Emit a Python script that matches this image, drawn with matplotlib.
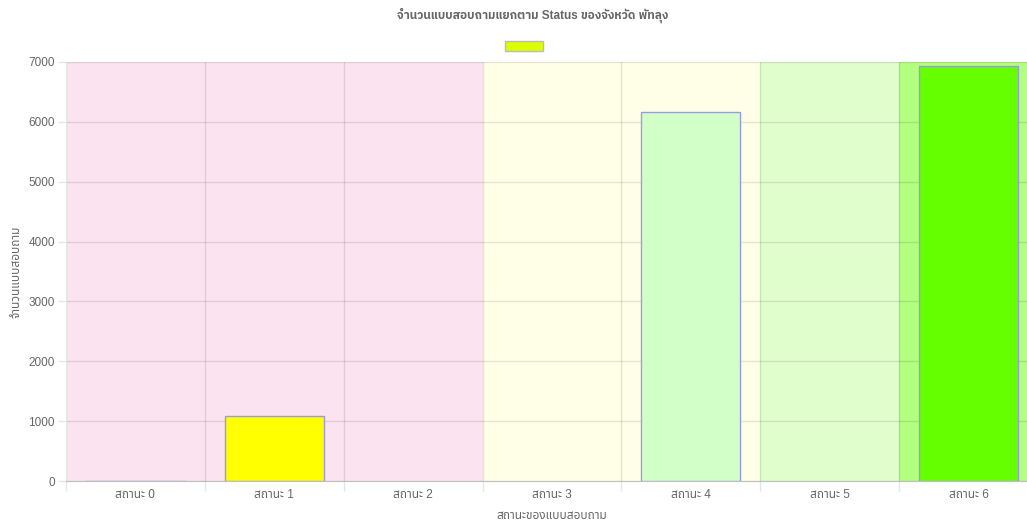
import matplotlib
matplotlib.use("Agg")
import matplotlib.pyplot as plt
from matplotlib.patches import Patch

plt.rcParams['font.family'] = ['Liberation Sans', 'Noto Sans Thai', 'DejaVu Sans']

# data
categories = ['สถานะ 0', 'สถานะ 1', 'สถานะ 2', 'สถานะ 3', 'สถานะ 4', 'สถานะ 5', 'สถานะ 6']
counts = [5, 1085, 0, 0, 6165, 0, 6940]
bar_colors = ['#dcff00', '#ffff00', '#ffd6e8', '#fffee6', '#d2ffc8', '#e0fdcc', '#66ff00']

# background bands: (first status, last status, colour)
bands = [(0, 2, '#fbe3ef'), (3, 4, '#fffee6'), (5, 5, '#e0fdcc'), (6, 6, '#b3ff80')]

title = 'จำนวนแบบสอบถามแยกตาม Status ของจังหวัด พัทลุง'
xlabel = 'สถานะของแบบสอบถาม'
ylabel = 'จำนวนแบบสอบถาม'

grey = '#666666'
fig = plt.figure(figsize=(10.27, 5.22), dpi=100)
# plot area runs past the right edge, like the cropped screenshot
ax = fig.add_axes([66 / 1027, 41 / 522, (1038 - 66) / 1027, (481 - 62) / 522])

for lo, hi, c in bands:
    ax.axvspan(lo - 0.5, hi + 0.5, color=c, lw=0, zorder=0)

x = range(len(categories))
# empty bars get no border, as in the reference
ax.bar(x, counts, width=0.715, color=bar_colors, edgecolor='#9a9ae8',
       linewidth=[1 if v > 0 else 0 for v in counts], zorder=3)

ax.set_xlim(-0.5, len(categories) - 0.5)
ax.set_ylim(0, 7000)
ax.set_yticks(range(0, 7001, 1000))

# grid lines sit on the category boundaries, labels at the centres
ax.set_xticks([i - 0.5 for i in range(len(categories) + 1)])
ax.set_xticklabels([])
ax.set_xticks(list(x), minor=True)
ax.set_xticklabels(categories, minor=True)
ax.tick_params(axis='x', which='major', length=7, color='#e6e6e6', width=1)
ax.tick_params(axis='x', which='minor', length=0, pad=6, labelsize=8.5, labelcolor=grey)
ax.tick_params(axis='y', length=6, color='#e6e6e6', width=1, pad=2, labelsize=8.5, labelcolor=grey)

ax.grid(True, which='major', color='black', alpha=0.1, linewidth=1)
for gl in ax.get_xgridlines() + ax.get_ygridlines():
    gl.set_zorder(1)

for s in ['top', 'right']:
    ax.spines[s].set_visible(False)
ax.spines['left'].set_color('#e6e6e6')
ax.spines['bottom'].set_color('#bfbfbf')

ax.set_xlabel(xlabel, fontsize=8.5, color=grey, labelpad=6)
ax.set_ylabel(ylabel, fontsize=8.5, color=grey, labelpad=4)

fig.text(533 / 1027, 1 - 15 / 522, title, ha='center', va='center',
         fontsize=8.5, fontweight='bold', color=grey,
         family=['Liberation Sans', 'IBM Plex Sans Thai', 'Noto Sans Thai'])

fig.legend(handles=[Patch(facecolor=bar_colors[0], edgecolor='#bbbbbb', linewidth=1)],
           labels=[''], loc='center', bbox_to_anchor=(524 / 1027, 1 - 47 / 522),
           frameon=False, handlelength=3.3, handleheight=1.0, handletextpad=0,
           borderpad=0, fontsize=8.5)

fig.savefig('out.png', dpi=100)
